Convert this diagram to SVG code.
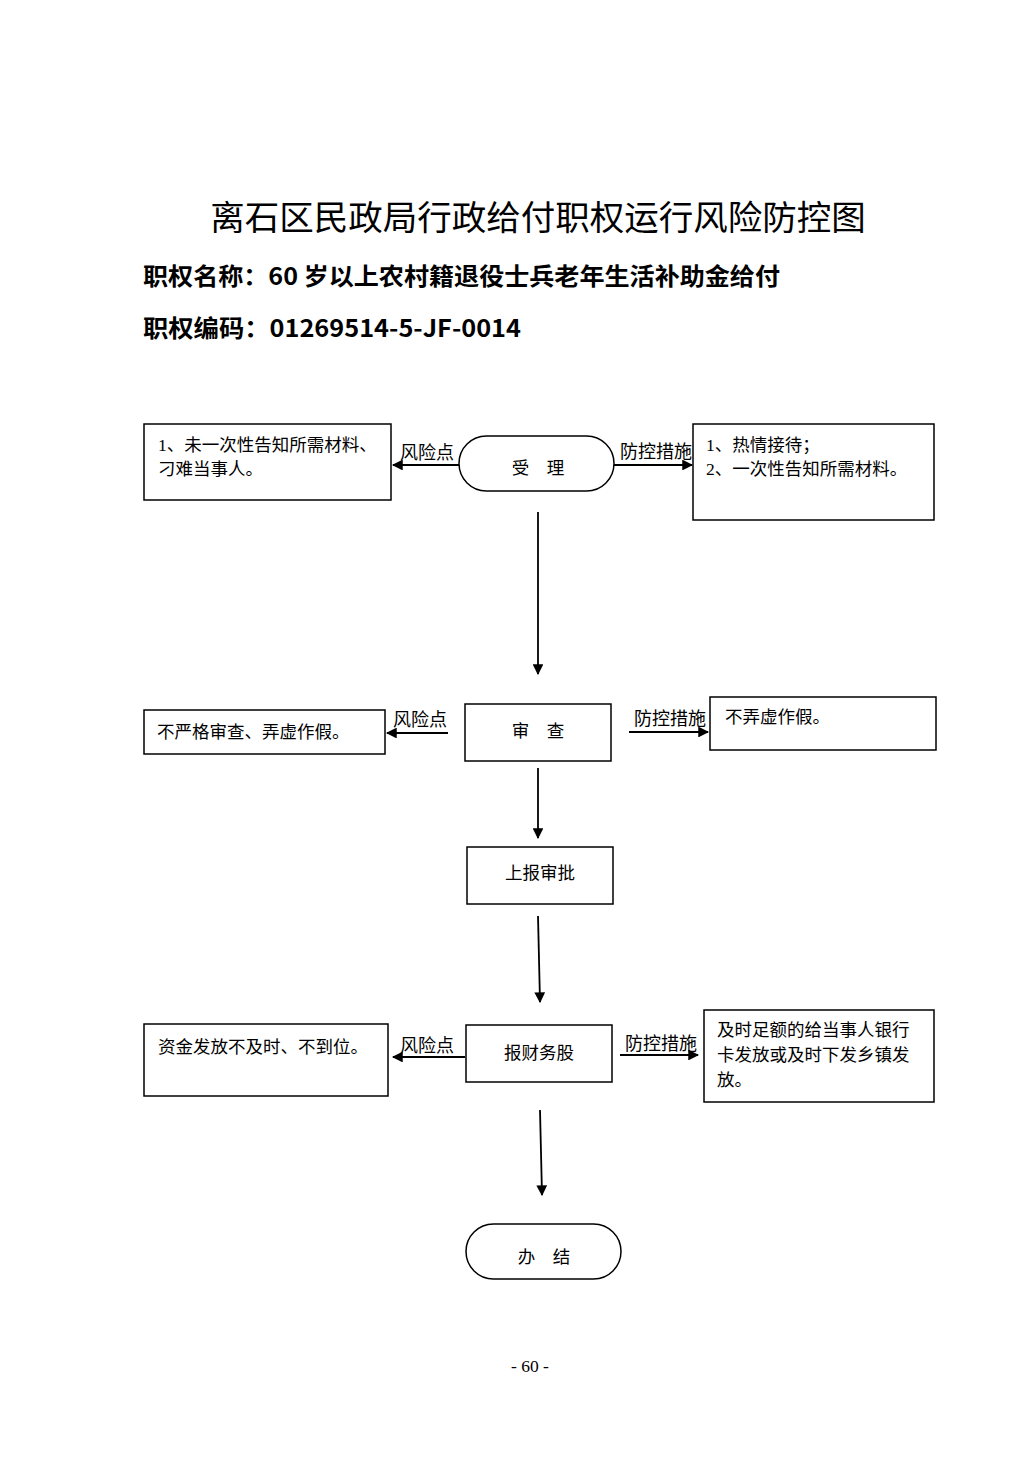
<svg xmlns="http://www.w3.org/2000/svg" width="1033" height="1461" viewBox="0 0 1033 1461">
<style>
.t{font-family:"Liberation Serif","Noto Sans CJK SC",serif;font-size:17.5px;fill:#000}
.c{text-anchor:middle}
.g{font-size:18px}
.b{fill:#fff;stroke:#000;stroke-width:1.5}
.l{stroke:#000;stroke-width:1.8;fill:none}
.h{font-family:"Noto Sans CJK SC",sans-serif;fill:#000}
</style>
<defs>
<marker id="a" viewBox="0 0 10 10" refX="9" refY="5" markerWidth="6" markerHeight="6" orient="auto" markerUnits="strokeWidth">
<path d="M0,0 L10,5 L0,10 z" fill="#000"/>
</marker>
</defs>
<rect width="1033" height="1461" fill="#fff"/>
<text class="h c" x="538" y="230" font-size="34.5">离石区民政局行政给付职权运行风险防控图</text>
<text class="h" x="143" y="285" font-size="24" font-weight="bold" textLength="637" lengthAdjust="spacingAndGlyphs">职权名称：60 岁以上农村籍退役士兵老年生活补助金给付</text>
<text class="h" x="143" y="337" font-size="24" font-weight="bold" textLength="378" lengthAdjust="spacingAndGlyphs">职权编码：01269514-5-JF-0014</text>

<g id="connectors">
<line class="l" x1="459" y1="465" x2="393" y2="465" marker-end="url(#a)"/>
<line class="l" x1="614" y1="465" x2="692" y2="465" marker-end="url(#a)"/>
<line class="l" x1="538" y1="512" x2="538" y2="674" marker-end="url(#a)"/>
<line class="l" x1="448" y1="733" x2="387" y2="733" marker-end="url(#a)"/>
<line class="l" x1="629" y1="732" x2="708" y2="732" marker-end="url(#a)"/>
<line class="l" x1="538" y1="768" x2="538" y2="838" marker-end="url(#a)"/>
<line class="l" x1="538" y1="916" x2="540" y2="1002" marker-end="url(#a)"/>
<line class="l" x1="465" y1="1057" x2="393" y2="1057" marker-end="url(#a)"/>
<line class="l" x1="620" y1="1055" x2="698" y2="1055" marker-end="url(#a)"/>
<line class="l" x1="540" y1="1110" x2="542" y2="1195" marker-end="url(#a)"/>
<text class="t g" x="400" y="459">风险点</text>
<text class="t g" x="620" y="458" textLength="72">防控措施</text>
<text class="t g" x="393" y="726">风险点</text>
<text class="t g" x="634" y="725" textLength="72">防控措施</text>
<text class="t g" x="400" y="1052">风险点</text>
<text class="t g" x="625" y="1050" textLength="72">防控措施</text>
</g>

<g id="n1"><rect class="b" x="459" y="436" width="155" height="55" rx="27.5"/><text class="t c" x="538" y="474">受　理</text></g>
<g id="r1"><rect class="b" x="144" y="424" width="247" height="76"/><text class="t" x="158" y="451" font-size="18">1、未一次性告知所需材料、</text><text class="t" x="158" y="475" font-size="18">刁难当事人。</text></g>
<g id="p1"><rect class="b" x="693" y="424" width="241" height="96"/><text class="t" x="706" y="451" font-size="18">1、热情接待；</text><text class="t" x="706" y="475" font-size="18">2、一次性告知所需材料。</text></g>

<g id="n2"><rect class="b" x="465" y="704" width="146" height="57"/><text class="t c" x="538" y="737">审　查</text></g>
<g id="r2"><rect class="b" x="144" y="710" width="241" height="44"/><text class="t" x="157" y="738">不严格审查、弄虚作假。</text></g>
<g id="p2"><rect class="b" x="710" y="697" width="226" height="53"/><text class="t" x="725" y="723">不弄虚作假。</text></g>

<g id="n3"><rect class="b" x="467" y="847" width="146" height="57"/><text class="t c" x="540" y="879">上报审批</text></g>

<g id="n4"><rect class="b" x="466" y="1025" width="146" height="57"/><text class="t c" x="539" y="1059">报财务股</text></g>
<g id="r4"><rect class="b" x="144" y="1024" width="244" height="72"/><text class="t" x="158" y="1053">资金发放不及时、不到位。</text></g>
<g id="p4"><rect class="b" x="704" y="1010" width="230" height="92"/><text class="t" x="717" y="1036" font-size="18.5">及时足额的给当事人银行</text><text class="t" x="717" y="1061" font-size="18.5">卡发放或及时下发乡镇发</text><text class="t" x="717" y="1086" font-size="18.5">放。</text></g>

<g id="n5"><rect class="b" x="466" y="1224" width="155" height="55" rx="27.5"/><text class="t c" x="544" y="1263">办　结</text></g>

<text class="t c" x="530" y="1372" font-size="14">- 60 -</text>
</svg>
